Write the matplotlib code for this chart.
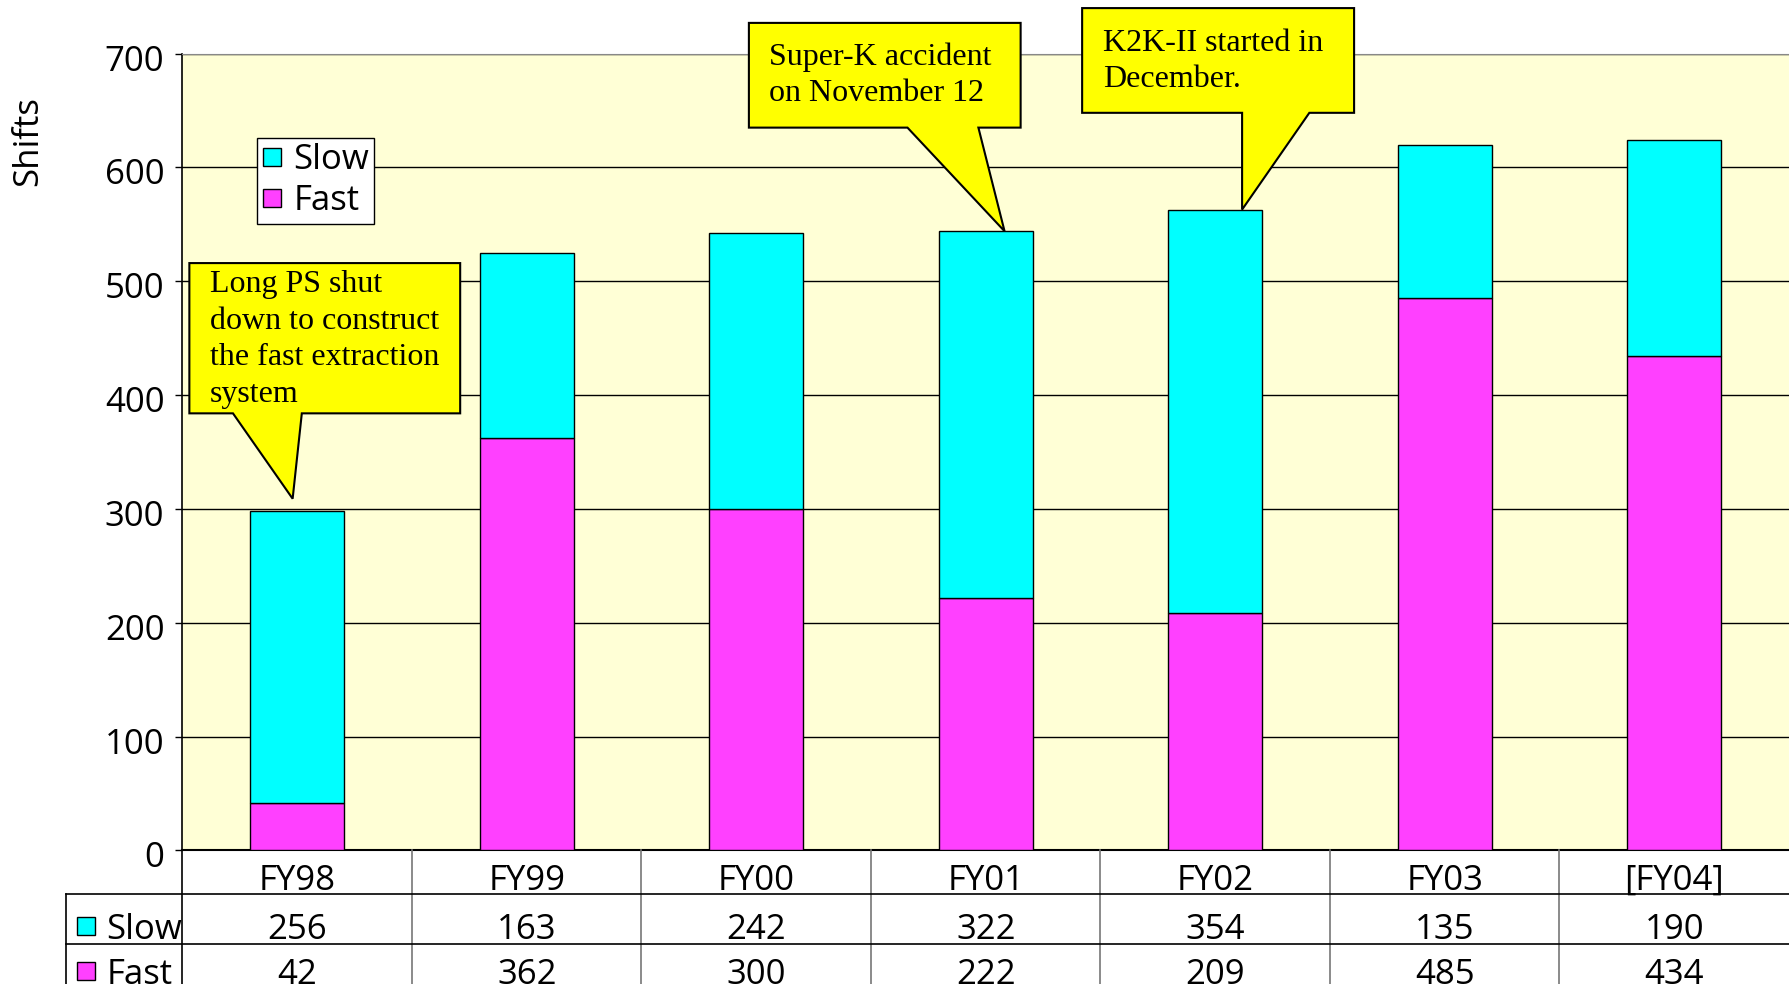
import matplotlib
matplotlib.use('Agg')
import matplotlib.pyplot as plt
from matplotlib.patches import Polygon
from matplotlib.lines import Line2D
from matplotlib.transforms import blended_transform_factory, ScaledTranslation

# Beam shifts per fiscal year
years = ['FY98', 'FY99', 'FY00', 'FY01', 'FY02', 'FY03', '[FY04]']
slow = [256, 163, 242, 322, 354, 135, 190]
fast = [42, 362, 300, 222, 209, 485, 434]

warna_slow = '#00FFFF'
warna_fast = '#FF40FF'
sans = ['Open Sans', 'DejaVu Sans']
serif = ['Liberation Serif', 'DejaVu Serif']
fs = 25

fig = plt.figure(figsize=(17.89, 9.84), dpi=100)
ax = fig.add_axes([0.102, 0.1357, 0.898, 0.8098])
ax.set_facecolor('#FFFFD6')

x = list(range(len(years)))
ax.bar(x, fast, width=0.41, color=warna_fast, edgecolor='black', linewidth=1, zorder=3)
ax.bar(x, slow, width=0.41, bottom=fast, color=warna_slow, edgecolor='black', linewidth=1, zorder=3)

ax.set_xlim(-0.5, len(years) - 0.5)
ax.set_ylim(0, 700)
ax.set_yticks(range(0, 701, 100))
ax.yaxis.grid(True, color='black', linewidth=1)
ax.set_axisbelow(True)
ax.set_xticks([])
ax.tick_params(axis='y', length=5, width=1, pad=8, labelsize=fs)
geser = ScaledTranslation(0, -4 / 100, fig.dpi_scale_trans)
for lbl in ax.get_yticklabels():
    lbl.set_fontfamily(sans)
    lbl.set_transform(lbl.get_transform() + geser)
ax.spines['right'].set_visible(False)
ax.spines['top'].set_color('#888888')
ax.spines['left'].set_linewidth(1.2)
ax.spines['bottom'].set_linewidth(1.5)

fig.text(0.016, 0.857, 'Shifts', rotation=90, ha='center', va='center',
         fontsize=fs, family=sans)

# Legend
h = [Line2D([], [], marker='s', linestyle='none', markersize=13,
            markerfacecolor=warna_slow, markeredgecolor='black'),
     Line2D([], [], marker='s', linestyle='none', markersize=13,
            markerfacecolor=warna_fast, markeredgecolor='black')]
leg = ax.legend(h, ['Slow', 'Fast'], loc='upper left',
                bbox_to_anchor=(0.1435, 0.8596), bbox_transform=fig.transFigure,
                prop={'family': sans, 'size': fs}, frameon=True, fancybox=False,
                framealpha=1, edgecolor='black', borderpad=0.15, labelspacing=0.2,
                handlelength=0.6, handletextpad=0.3, borderaxespad=0)
leg.get_frame().set_linewidth(1)
leg.set_zorder(6)


# Yellow speech-bubble callouts
def callout(kiri, kanan, bawah, atas, base_l, base_r, tip_x, tip_y, teks, tx, ty):
    pts = [(kiri, atas), (kanan, atas), (kanan, bawah), (base_r, bawah),
           (tip_x, tip_y), (base_l, bawah), (kiri, bawah)]
    ax.add_patch(Polygon(pts, closed=True, facecolor='#FFFF00', edgecolor='black',
                         linewidth=1.5, clip_on=False, zorder=7))
    ax.text(tx, ty, teks, ha='left', va='top', fontsize=23, family=serif,
            linespacing=1.35, zorder=8, clip_on=False)


total = [s + f for s, f in zip(slow, fast)]
callout(-0.47, 0.71, 384, 516, -0.28, 0.02, -0.02, total[0] + 11,
        'Long PS shut\ndown to construct\nthe fast extraction\nsystem', -0.381, 510)
callout(1.968, 3.152, 635, 727, 2.659, 2.968, 3.082, total[3],
        'Super-K accident\non November 12', 2.057, 710)
callout(3.42, 4.605, 648, 740, 4.117, 4.41, 4.117, total[4],
        'K2K-II started in\nDecember.', 3.51, 722)

# Data table under the plot
tr = blended_transform_factory(ax.transData, fig.transFigure)
n = len(years)
for i in range(1, n):
    fig.add_artist(Line2D([i - 0.5, i - 0.5], [0, 0.1357], transform=tr,
                          color='#777777', linewidth=1.2))
fig.add_artist(Line2D([-0.5, -0.5], [0, 0.1357], transform=tr, color='black', linewidth=1.2))
for yy in [0.0916, 0.0406]:
    fig.add_artist(Line2D([0.037, 1.0], [yy, yy], transform=fig.transFigure,
                          color='black', linewidth=1.2))
fig.add_artist(Line2D([0.037, 0.037], [0, 0.0916], transform=fig.transFigure,
                      color='black', linewidth=1.2))

for i, th in enumerate(years):
    fig.text(i, 0.105, th, transform=tr, ha='center', va='center', fontsize=fs, family=sans)
    fig.text(i, 0.055, str(slow[i]), transform=tr, ha='center', va='center',
             fontsize=fs, family=sans)
    fig.text(i, 0.009, str(fast[i]), transform=tr, ha='center', va='center',
             fontsize=fs, family=sans)

for yy, nama, warna in [(0.055, 'Slow', warna_slow), (0.009, 'Fast', warna_fast)]:
    fig.add_artist(Line2D([0.048], [yy + 0.004], marker='s', markersize=13, linestyle='none',
                          markerfacecolor=warna, markeredgecolor='black',
                          transform=fig.transFigure))
    fig.text(0.0595, yy, nama, ha='left', va='center', fontsize=fs, family=sans)

fig.savefig('out.png', dpi=100)
